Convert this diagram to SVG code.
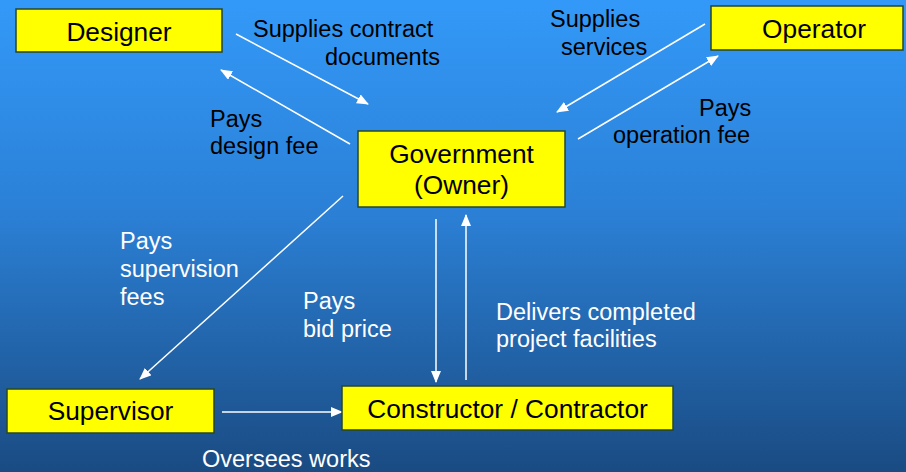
<svg xmlns="http://www.w3.org/2000/svg" width="906" height="472" viewBox="0 0 906 472">
  <defs>
    <linearGradient id="bg" x1="0" y1="0" x2="0" y2="1">
      <stop offset="0" stop-color="#3399f8"/>
      <stop offset="0.45" stop-color="#2b80d6"/>
      <stop offset="1" stop-color="#1a4b82"/>
    </linearGradient>
    <marker id="head" viewBox="0 0 12 10" refX="11" refY="5" markerWidth="12" markerHeight="10" markerUnits="userSpaceOnUse" orient="auto">
      <path d="M0,0 L12,5 L0,10 Z" fill="#ffffff"/>
    </marker>
    <style>
      .box { fill: #ffff00; stroke: #27472a; stroke-width: 1.5; }
      .name { font-family: "Liberation Sans", Arial, sans-serif; font-size: 26.3px; fill: #000000; text-anchor: middle; }
      .lbl { font-family: "Liberation Sans", Arial, sans-serif; font-size: 23.5px; }
      .dark { fill: #000000; }
      .light { fill: #ffffff; }
      .link { stroke: #ffffff; stroke-width: 1.5; fill: none; marker-end: url(#head); }
    </style>
  </defs>

  <rect x="0" y="0" width="906" height="472" fill="url(#bg)"/>

  <!-- connectors -->
  <g id="connectors">
    <line class="link" x1="236" y1="34" x2="368" y2="104"/>
    <line class="link" x1="350" y1="144" x2="221" y2="70"/>
    <line class="link" x1="705" y1="24" x2="557" y2="112"/>
    <line class="link" x1="578" y1="139" x2="718" y2="56"/>
    <line class="link" x1="343" y1="196" x2="140" y2="379"/>
    <line class="link" x1="436" y1="219" x2="436" y2="382"/>
    <line class="link" x1="466" y1="380" x2="466" y2="215"/>
    <line class="link" x1="222" y1="412" x2="342" y2="412"/>
  </g>

  <!-- connector labels -->
  <g id="labels" class="lbl">
    <text class="dark" x="253" y="37">Supplies contract</text>
    <text class="dark" x="325" y="65">documents</text>
    <text class="dark" x="210" y="127">Pays</text>
    <text class="dark" x="210" y="154">design fee</text>
    <text class="dark" x="550" y="27">Supplies</text>
    <text class="dark" x="561" y="55">services</text>
    <text class="dark" x="699" y="116">Pays</text>
    <text class="dark" x="613" y="143">operation fee</text>
    <text class="light" x="120" y="249">Pays</text>
    <text class="light" x="120" y="277">supervision</text>
    <text class="light" x="120" y="305">fees</text>
    <text class="light" x="303" y="309">Pays</text>
    <text class="light" x="303" y="337">bid price</text>
    <text class="light" x="496" y="320">Delivers completed</text>
    <text class="light" x="496" y="347">project facilities</text>
    <text class="light" x="202" y="467">Oversees works</text>
  </g>

  <!-- nodes -->
  <g id="designer">
    <rect class="box" x="16" y="9" width="206" height="43"/>
    <text class="name" x="119" y="41">Designer</text>
  </g>
  <g id="operator">
    <rect class="box" x="711" y="6" width="192" height="44"/>
    <text class="name" x="814" y="38">Operator</text>
  </g>
  <g id="government">
    <rect class="box" x="358" y="131" width="207" height="76"/>
    <text class="name" x="461.5" y="163">Government</text>
    <text class="name" x="461.5" y="194">(Owner)</text>
  </g>
  <g id="supervisor">
    <rect class="box" x="7" y="389" width="207" height="44"/>
    <text class="name" x="110.5" y="420">Supervisor</text>
  </g>
  <g id="constructor">
    <rect class="box" x="342" y="386" width="331" height="44"/>
    <text class="name" x="507.5" y="418">Constructor / Contractor</text>
  </g>
</svg>
